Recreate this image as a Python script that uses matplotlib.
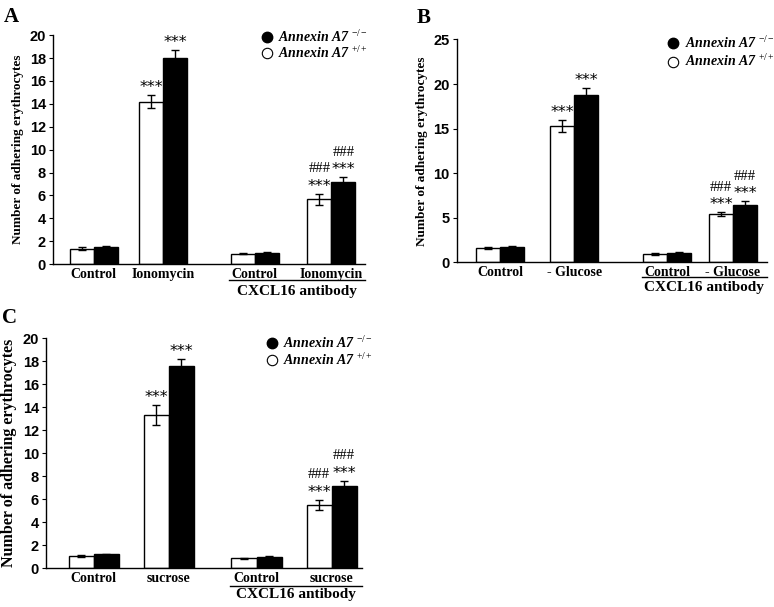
import matplotlib
matplotlib.use("Agg")
import matplotlib.pyplot as plt

# ---------------- data ----------------
cats_A = ["Control", "Ionomycin", "Control", "Ionomycin"]
wt_A = [1.35, 14.2, 0.9, 5.65]
wt_A_err = [0.1, 0.6, 0.06, 0.5]
ko_A = [1.5, 18.0, 1.0, 7.15]
ko_A_err = [0.1, 0.7, 0.08, 0.45]

cats_B = ["Control", "- Glucose", "Control", "- Glucose"]
wt_B = [1.6, 15.3, 0.9, 5.4]
wt_B_err = [0.15, 0.7, 0.08, 0.25]
ko_B = [1.7, 18.8, 1.05, 6.45]
ko_B_err = [0.1, 0.7, 0.05, 0.4]

cats_C = ["Control", "sucrose", "Control", "sucrose"]
wt_C = [1.05, 13.3, 0.85, 5.5]
wt_C_err = [0.08, 0.85, 0.07, 0.45]
ko_C = [1.2, 17.6, 1.0, 7.1]
ko_C_err = [0.05, 0.55, 0.05, 0.5]

wt_marks = ["", "***", "", "###\n***"]
ko_marks = ["", "***", "", "###\n***"]

legend_labels = [r"$\mathbfit{Annexin\ A7}\ ^{\mathrm{-/-}}$",
                 r"$\mathbfit{Annexin\ A7}\ ^{\mathrm{+/+}}$"]
ylabel = "Number of adhering erythrocytes"
group_label = "CXCL16 antibody"

SERIF = "Liberation Serif"
SANS = "Liberation Sans"

plt.rcParams["mathtext.fontset"] = "custom"
plt.rcParams["mathtext.rm"] = "Liberation Serif"
plt.rcParams["mathtext.it"] = "Liberation Serif:italic"
plt.rcParams["mathtext.bf"] = "Liberation Serif:bold"
plt.rcParams["mathtext.bfit"] = "Liberation Serif:bold:italic"

fig = plt.figure(figsize=(7.74, 6.07), dpi=100)


def panel(rect, letter, cats, wt, wt_err, ko, ko_err, centers, xmax, ymax,
          yticks, ylab_size, letter_pos, leg, line_y, grp_y):
    ax = fig.add_axes(rect)
    w = 1.0
    xw = [c - w / 2 for c in centers]
    xk = [c + w / 2 for c in centers]
    ekw = dict(ecolor="black", elinewidth=1.0, capsize=3, capthick=1.0)
    ax.bar(xw, wt, width=w, color="white", edgecolor="black", linewidth=1.0,
           yerr=wt_err, error_kw=ekw, zorder=2)
    ax.bar(xk, ko, width=w, color="black", edgecolor="black", linewidth=1.0,
           yerr=ko_err, error_kw=ekw, zorder=2)
    ax.set_xlim(0, xmax)
    ax.set_ylim(0, ymax)
    ax.set_yticks(yticks)
    ax.set_yticklabels([str(t) for t in yticks], fontfamily=SANS,
                       fontweight="bold", fontsize=10.5)
    ax.tick_params(axis="y", direction="out", length=3, width=0.8, pad=2)
    ax.set_xticks(centers)
    ax.set_xticklabels(cats, fontfamily=SERIF, fontweight="bold", fontsize=10)
    ax.tick_params(axis="x", length=0, pad=3)
    for s in ["top", "right"]:
        ax.spines[s].set_visible(False)
    for s in ["left", "bottom"]:
        ax.spines[s].set_linewidth(1.0)
    ax.set_ylabel(ylabel, fontfamily=SERIF, fontweight="bold",
                  fontsize=ylab_size, labelpad=4)
    # significance marks
    for i in range(len(cats)):
        for x, v, e, m in [(xw[i], wt[i], wt_err[i], wt_marks[i]),
                           (xk[i], ko[i], ko_err[i], ko_marks[i])]:
            if not m:
                continue
            lines = m.split("\n")
            y0 = v + e
            ax.text(x, y0, lines[-1], ha="center", va="bottom",
                    fontfamily="DejaVu Sans", fontsize=11.5, clip_on=False)
            if len(lines) > 1:
                ax.text(x, y0 + ymax * 0.08, lines[0], ha="center",
                        va="bottom", fontfamily=SERIF, fontsize=10.5,
                        clip_on=False)
    # group underline + label
    x0 = centers[2] - 1.05
    x1 = xmax
    ax.plot([x0, x1], [line_y, line_y], color="black", lw=1.0,
            transform=ax.get_xaxis_transform(), clip_on=False)
    ax.text((x0 + x1) / 2, grp_y, group_label, ha="center", va="top",
            fontfamily=SERIF, fontweight="bold", fontsize=11,
            transform=ax.get_xaxis_transform())
    # panel letter
    fig.text(letter_pos[0], letter_pos[1], letter, fontfamily=SERIF,
             fontweight="bold", fontsize=15, ha="left", va="center")
    # legend (manual)
    cx, yb, yw, tx = leg
    ax.plot([cx], [yb], marker="o", ls="none", mfc="black", mec="black",
            markersize=7.5, transform=ax.transAxes, clip_on=False)
    ax.plot([cx], [yw], marker="o", ls="none", mfc="white", mec="black",
            mew=0.8, markersize=7.5, transform=ax.transAxes, clip_on=False)
    for yy, lab in zip([yb, yw], legend_labels):
        ax.text(tx, yy, lab, ha="left", va="center", fontsize=10,
                transform=ax.transAxes, clip_on=False)
    return ax


panel([0.0685, 0.565, 0.403, 0.377], "A", cats_A, wt_A, wt_A_err, ko_A,
      ko_A_err, [1.7, 4.6, 8.4, 11.6], 13.0, 20, list(range(0, 21, 2)),
      9.5, (0.005, 0.972), (0.686, 0.99, 0.921, 0.722), -0.07, -0.09)

panel([0.590, 0.568, 0.4005, 0.367], "B", cats_B, wt_B, wt_B_err, ko_B,
      ko_B_err, [1.8, 4.9, 8.75, 11.5], 12.9, 25, list(range(0, 26, 5)),
      9.5, (0.538, 0.970), (0.697, 0.982, 0.901, 0.735), -0.067, -0.085)

panel([0.0594, 0.064, 0.408, 0.379], "C", cats_C, wt_C, wt_C_err, ko_C,
      ko_C_err, [1.9, 4.9, 8.4, 11.4], 12.6, 20, list(range(0, 21, 2)),
      11.5, (0.003, 0.476), (0.715, 0.978, 0.904, 0.75), -0.078, -0.088)

fig.savefig("out.png", dpi=100)
